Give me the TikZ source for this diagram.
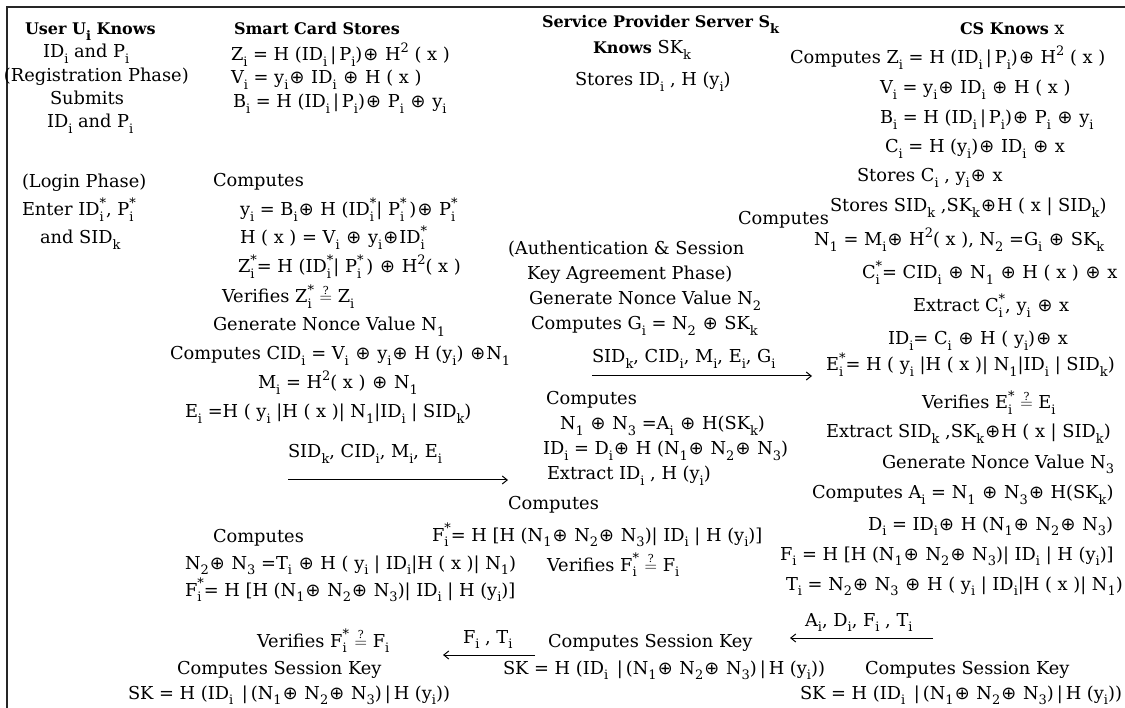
\documentclass[tikz,border=0pt]{standalone}
\usepackage{fontspec}
\setmainfont{DejaVu Serif}
\newfontfamily\symf{DejaVu Sans}
\usetikzlibrary{arrows.meta}
\newcommand\sbx[1]{\raisebox{-0.32em}{\fontsize{13}{12}\selectfont #1}}
\newcommand\spx[1]{\raisebox{0.5em}{\fontsize{13}{12}\selectfont #1}}
\newcommand\sbsp[2]{\rlap{\sbx{#1}}\spx{#2}}
\newcommand\xo{\hspace{1.1pt}{\symf ⊕}\hspace{1.1pt}}
\newcommand\qeq{$\stackrel{\mbox{\fontsize{11}{11}\selectfont ?}}{=}$}
\tikzset{
  txt/.style={anchor=base west, inner sep=0pt, outer sep=0pt, font=\fontsize{17.8}{20}\selectfont},
  hdr/.style={txt, font=\fontsize{16}{20}\selectfont\bfseries},
  msg/.style={line width=1pt, -{Straight Barb[length=5pt,width=8pt]}},
  frame/.style={line width=1.6pt, draw=black!85}
}
\begin{document}
\begin{tikzpicture}[x=1pt,y=-1pt]
\useasboundingbox (0,0) rectangle (1125,708);
\draw[frame] (7,708) |- (1125,7);
% ---- User column
\node[hdr] (t1) at (25,35) {User U\sbx{i} Knows};
\node[txt] (t2) at (43,58) {ID\sbx{i} and P\sbx{i}};
\node[txt] (t3) at (4,82) {(Registration Phase)};
\node[txt] (t4) at (50,105) {Submits};
\node[txt] (t5) at (47,128) {ID\sbx{i} and P\sbx{i}};
\node[txt] (t6) at (22,188) {(Login Phase)};
\node[txt] (t7) at (22,216) {Enter ID\sbsp{i}{*}, P\sbsp{i}{*}};
\node[txt] (t8) at (40,244) {and SID\sbx{k}};
% ---- Smart card column
\node[hdr] (s1) at (234,35) {Smart Card Stores};
\node[txt] (s2) at (231,61) {Z\sbx{i} = H (ID\sbx{i}\,|\,P\sbx{i})\xo{} H\spx{2} ( x )};
\node[txt] (s3) at (231,84) {V\sbx{i} = y\sbx{i}\xo{} ID\sbx{i} \xo{} H ( x )};
\node[txt] (s4) at (233,108) {B\sbx{i} = H (ID\sbx{i}\,|\,P\sbx{i})\xo{} P\sbx{i} \xo{} y\sbx{i}};
\node[txt] (s5) at (213,187) {Computes};
\node[txt] (s6) at (240,216) {y\sbx{i} = B\sbx{i}\xo{} H (ID\sbsp{i}{*}| P\sbsp{i}{*}\,)\xo{} P\sbsp{i}{*}};
\node[txt] (s7) at (240,244) {H ( x ) = V\sbx{i} \xo{} y\sbx{i}\xo{}ID\sbsp{i}{*}};
\node[txt] (s8) at (238,273) {Z\sbsp{i}{*}= H (ID\sbsp{i}{*}| P\sbsp{i}{*}\,) \xo{} H\spx{2}( x )};
\node[txt] (s9) at (222,303) {Verifies Z\sbsp{i}{*} \qeq{} Z\sbx{i}};
\node[txt] (s10) at (213,331) {Generate Nonce Value N\sbx{1}};
\node[txt] (s11) at (170,360) {Computes CID\sbx{i} = V\sbx{i} \xo{} y\sbx{i}\xo{} H (y\sbx{i}) \xo{}N\sbx{1}};
\node[txt] (s12) at (258,389) {M\sbx{i} = H\spx{2}( x ) \xo{} N\sbx{1}};
\node[txt] (s13) at (185,418) {E\sbx{i} =H ( y\sbx{i} |H ( x )| N\sbx{1}|ID\sbx{i} | SID\sbx{k})};
\node[txt] (l1) at (288,458) {SID\sbx{k}, CID\sbx{i}, M\sbx{i}, E\sbx{i}};
\node[txt] (s14) at (213,542) {Computes};
\node[txt] (s15) at (185,569) {N\sbx{2}\xo{} N\sbx{3} =T\sbx{i} \xo{} H ( y\sbx{i} | ID\sbx{i}|H ( x )| N\sbx{1})};
\node[txt] (s16) at (185,596) {F\sbsp{i}{*}= H [H (N\sbx{1}\xo{} N\sbx{2}\xo{} N\sbx{3})| ID\sbx{i} | H (y\sbx{i})]};
\node[txt] (s17) at (257,647) {Verifies F\sbsp{i}{*} \qeq{} F\sbx{i}};
\node[txt] (s18) at (177,674) {Computes Session Key};
\node[txt] (s19) at (128,699) {SK = H (ID\sbx{i} \,|\,(N\sbx{1}\xo{} N\sbx{2}\xo{} N\sbx{3})\,|\,H (y\sbx{i}))};
% ---- Service provider column
\node[hdr] (p1) at (542,28) {Service Provider Server S\sbx{k}};
\node[txt] (p2) at (593,54) {{\fontsize{16}{20}\selectfont\bfseries Knows} SK\sbx{k}};
\node[txt] (p3) at (575,86) {Stores ID\sbx{i} , H (y\sbx{i})};
\node[txt] (p4) at (508,255) {(Authentication \& Session};
\node[txt] (p5) at (527,280) {Key Agreement Phase)};
\node[txt] (p6) at (529,305) {Generate Nonce Value N\sbx{2}};
\node[txt] (p7) at (531,330) {Computes G\sbx{i} = N\sbx{2} \xo{} SK\sbx{k}};
\node[txt] (l2) at (592,363) {SID\sbx{k}, CID\sbx{i}, M\sbx{i}, E\sbx{i}, G\sbx{i}};
\node[txt] (p8) at (546,405) {Computes};
\node[txt] (p9) at (560,430) {N\sbx{1} \xo{} N\sbx{3} =A\sbx{i} \xo{} H(SK\sbx{k})};
\node[txt] (p10) at (543,455) {ID\sbx{i} = D\sbx{i}\xo{} H (N\sbx{1}\xo{} N\sbx{2}\xo{} N\sbx{3})};
\node[txt] (p11) at (547,480) {Extract ID\sbx{i} , H (y\sbx{i})};
\node[txt] (p12) at (508,510) {Computes};
\node[txt] (p13) at (432,541) {F\sbsp{i}{*}= H [H (N\sbx{1}\xo{} N\sbx{2}\xo{} N\sbx{3})| ID\sbx{i} | H (y\sbx{i})]};
\node[txt] (p14) at (547,571) {Verifies F\sbsp{i}{*} \qeq{} F\sbx{i}};
\node[txt] (l4) at (463,643) {F\sbx{i} , T\sbx{i}};
\node[txt] (p15) at (548,647) {Computes Session Key};
\node[txt] (p16) at (503,674) {SK = H (ID\sbx{i} \,|\,(N\sbx{1}\xo{} N\sbx{2}\xo{} N\sbx{3})\,|\,H (y\sbx{i}))};
% ---- CS column
\node[hdr] (c1) at (960,35) {CS Knows {\mdseries\fontsize{17.8}{20}\selectfont x}};
\node[txt] (c2) at (790,64) {Computes Z\sbx{i} = H (ID\sbx{i}\,|\,P\sbx{i})\xo{} H\spx{2} ( x )};
\node[txt] (c3) at (880,94) {V\sbx{i} = y\sbx{i}\xo{} ID\sbx{i} \xo{} H ( x )};
\node[txt] (c4) at (880,124) {B\sbx{i} = H (ID\sbx{i}\,|\,P\sbx{i})\xo{} P\sbx{i} \xo{} y\sbx{i}};
\node[txt] (c5) at (885,153) {C\sbx{i} = H (y\sbx{i})\xo{} ID\sbx{i} \xo{} x};
\node[txt] (c6) at (857,182) {Stores C\sbx{i} , y\sbx{i}\xo{} x};
\node[txt] (c7) at (830,212) {Stores SID\sbx{k} ,SK\sbx{k}\xo{}H ( x | SID\sbx{k})};
\node[txt] (c7b) at (738,225) {Computes};
\node[txt] (c8) at (814,246) {N\sbx{1} = M\sbx{i}\xo{} H\spx{2}( x ), N\sbx{2} =G\sbx{i} \xo{} SK\sbx{k}};
\node[txt] (c9) at (862,279) {C\sbsp{i}{*}= CID\sbx{i} \xo{} N\sbx{1} \xo{} H ( x ) \xo{} x};
\node[txt] (c10) at (913,312) {Extract C\sbsp{i}{*}, y\sbx{i} \xo{} x};
\node[txt] (c11) at (888,345) {ID\sbx{i}= C\sbx{i} \xo{} H ( y\sbx{i})\xo{} x};
\node[txt] (c12) at (826,371) {E\sbsp{i}{*}= H ( y\sbx{i} |H ( x )| N\sbx{1}|ID\sbx{i} | SID\sbx{k})};
\node[txt] (c13) at (922,409) {Verifies E\sbsp{i}{*} \qeq{} E\sbx{i}};
\node[txt] (c14) at (826,438) {Extract SID\sbx{k} ,SK\sbx{k}\xo{}H ( x | SID\sbx{k})};
\node[txt] (c15) at (882,468) {Generate Nonce Value N\sbx{3}};
\node[txt] (c16) at (812,499) {Computes A\sbx{i} = N\sbx{1} \xo{} N\sbx{3}\xo{} H(SK\sbx{k})};
\node[txt] (c17) at (868,530) {D\sbx{i} = ID\sbx{i}\xo{} H (N\sbx{1}\xo{} N\sbx{2}\xo{} N\sbx{3})};
\node[txt] (c18) at (780,560) {F\sbx{i} = H [H (N\sbx{1}\xo{} N\sbx{2}\xo{} N\sbx{3})| ID\sbx{i} | H (y\sbx{i})]};
\node[txt] (c19) at (786,590) {T\sbx{i} = N\sbx{2}\xo{} N\sbx{3} \xo{} H ( y\sbx{i} | ID\sbx{i}|H ( x )| N\sbx{1})};
\node[txt] (l3) at (805,626) {A\sbx{i}, D\sbx{i}, F\sbx{i} , T\sbx{i}};
\node[txt] (c20) at (865,674) {Computes Session Key};
\node[txt] (c21) at (800,699) {SK = H (ID\sbx{i} \,|\,(N\sbx{1}\xo{} N\sbx{2}\xo{} N\sbx{3})\,|\,H (y\sbx{i}))};
% ---- messages
\coordinate (a1s) at (288,480); \coordinate (a1e) at (508,480);
\coordinate (a2s) at (592,376); \coordinate (a2e) at (812,376);
\coordinate (a3s) at (933,638); \coordinate (a3e) at (790,638);
\coordinate (a4s) at (535,655); \coordinate (a4e) at (443,655);
\draw[msg] (a1s) -- (a1e);
\draw[msg] (a2s) -- (a2e);
\draw[msg] (a3s) -- (a3e);
\draw[msg] (a4s) -- (a4e);
\end{tikzpicture}
\end{document}
